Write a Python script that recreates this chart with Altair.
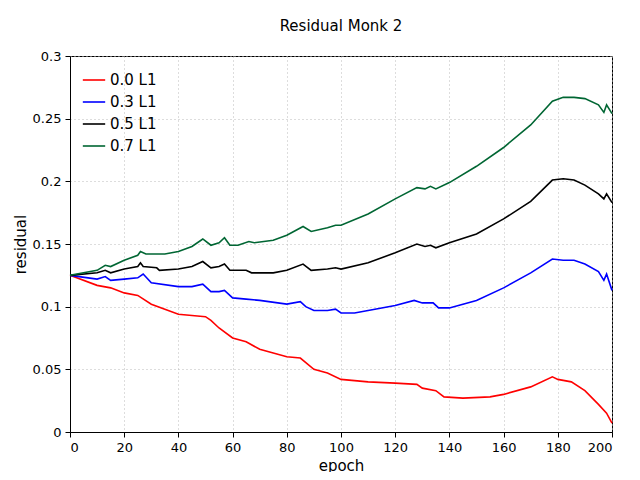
import altair as alt
import pandas as pd

red_x = [0,10,15,20,25,30,35,40,45,50,52,55,60,65,70,75,80,85,90,95,100,110,120,128,130,135,138,145,155,160,170,178,180,185,190,195,198,200]
red_y = [.125,.117,.115,.111,.109,.102,.098,.094,.093,.092,.089,.083,.075,.072,.066,.063,.060,.059,.050,.047,.042,.040,.039,.038,.035,.033,.028,.027,.028,.030,.036,.044,.042,.040,.033,.022,.015,.007]
blue_x = [0,10,13,15,20,25,27,30,40,45,49,52,55,57,60,65,70,80,85,87,90,95,98,100,105,110,120,127,130,134,136,140,150,160,170,178,182,186,190,195,197,198,200]
blue_y = [.125,.122,.124,.121,.122,.123,.126,.119,.116,.116,.118,.112,.112,.113,.107,.106,.105,.102,.104,.100,.097,.097,.098,.095,.095,.097,.101,.105,.103,.103,.099,.099,.105,.115,.127,.138,.137,.137,.134,.128,.121,.126,.113]
black_x = [0,10,13,15,20,25,26,27,32,33,40,45,49,52,55,57,59,65,67,75,80,86,89,95,98,100,110,120,128,131,133,135,140,150,160,170,178,182,186,190,195,197,198,200]
black_y = [.125,.127,.129,.127,.130,.132,.135,.132,.131,.129,.130,.132,.136,.131,.132,.134,.129,.129,.127,.127,.129,.134,.129,.130,.131,.130,.135,.143,.150,.148,.149,.147,.151,.158,.170,.184,.201,.202,.201,.197,.190,.186,.190,.183]
green_x = [0,10,13,15,20,25,26,28,32,35,40,45,49,52,55,57,59,62,66,68,75,80,86,89,95,98,100,110,120,128,131,133,135,140,150,160,170,178,182,186,190,195,197,198,200]
green_y = [.125,.129,.133,.132,.137,.141,.144,.142,.142,.142,.144,.148,.154,.149,.151,.155,.149,.149,.152,.151,.153,.157,.164,.160,.163,.165,.165,.174,.186,.195,.194,.196,.194,.199,.212,.227,.245,.264,.267,.267,.266,.261,.255,.261,.254]

names = ["0.0 L1", "0.3 L1", "0.5 L1", "0.7 L1"]
colors = ["#ff0000", "#0000ff", "#000000", "#006633"]
rows = []
for n, xs, ys in zip(names, [red_x, blue_x, black_x, green_x], [red_y, blue_y, black_y, green_y]):
    for x, y in zip(xs, ys):
        rows.append({"epoch": x, "residual": y, "series": n})
df = pd.DataFrame(rows)

font = "DejaVu Sans"
chart = alt.Chart(df).mark_line(strokeWidth=1.6).encode(
    x=alt.X("epoch:Q", scale=alt.Scale(domain=[0, 200], nice=False),
            axis=alt.Axis(values=list(range(0, 201, 20)), title="epoch")),
    y=alt.Y("residual:Q", scale=alt.Scale(domain=[0, 0.3], nice=False),
            axis=alt.Axis(values=[0, .05, .1, .15, .2, .25, .3], title="residual",
                          labelExpr="datum.value == 0 ? '0' : format(datum.value, '.3~f')")),
    color=alt.Color("series:N", scale=alt.Scale(domain=names, range=colors),
                    legend=alt.Legend(title=None, orient="top-left", symbolType="stroke",
                                      symbolStrokeWidth=1.6, symbolSize=500, labelFontSize=15,
                                      labelFont=font, rowPadding=2, offset=12)),
    order="epoch:Q",
).properties(
    width=542, height=376, autosize="none",
    padding={"left": 62, "top": 48, "right": 20, "bottom": 40},
    title=alt.TitleParams("Residual Monk 2", font=font, fontSize=15, fontWeight="normal", offset=16),
).configure_axis(
    labelFont=font, titleFont=font, labelFontSize=13, titleFontSize=15, titleFontWeight="normal",
    labelColor="black", titleColor="black", domainColor="black", tickColor="black",
    gridColor="#bbbbbb", gridDash=[1, 3], grid=True, tickSize=5, labelPadding=4,
).configure_view(stroke="black", strokeWidth=1)

chart.save("out.html", embed_options={"renderer": "svg", "actions": False})
